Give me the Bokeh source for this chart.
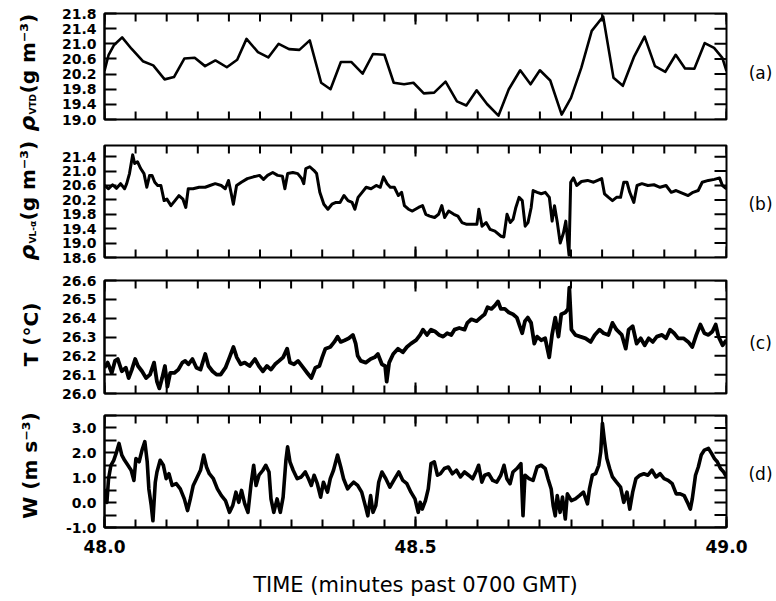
import numpy as np
from bokeh.plotting import figure
from bokeh.models import Range1d, LinearAxis, FixedTicker, PrintfTickFormatter
from bokeh.core.properties import value
from bokeh.layouts import column, row
from bokeh.embed import file_html
from bokeh.resources import INLINE

# Time axis: minutes past 0700 GMT. Samples are stored as seconds after 48.0 min.
T0 = 48.0
TIME_LABELS = [48.0, 48.5, 49.0]
TIME_MINOR = [round(v, 2) for v in np.arange(48.0, 49.0001, 0.05)]

# (a) VTD density, one value per second
VTD_SEC = [0.0, 0.4, 0.9, 1.7, 2.6, 3.7, 4.7, 5.8, 6.7, 7.7,
           8.7, 9.7, 10.7, 11.8, 12.8, 13.7, 14.8, 15.8, 16.8, 17.8,
           18.8, 19.8, 20.9, 21.8, 22.8, 23.8, 24.9, 25.9, 27.0, 27.9,
           28.9, 29.8, 30.8, 31.8, 32.9, 34.0, 34.9, 35.9, 36.9, 38.0,
           39.0, 40.1, 41.1, 42.0, 43.0, 44.1, 45.0, 46.0, 47.0, 48.1,
           49.1, 50.0, 51.1, 52.1, 53.1, 54.1, 55.1, 56.0, 56.9, 57.9,
           58.8, 59.6, 60.0]
VTD_RHO = [20.28, 20.71, 20.96, 21.17, 20.87, 20.54, 20.43, 20.06, 20.12, 20.61,
           20.63, 20.41, 20.56, 20.38, 20.58, 21.13, 20.78, 20.64, 21.00, 20.86,
           20.84, 21.09, 19.97, 19.80, 20.52, 20.52, 20.21, 20.73, 20.71, 19.97,
           19.93, 19.97, 19.69, 19.71, 20.00, 19.48, 19.37, 19.77, 19.41, 19.10,
           19.80, 20.30, 19.93, 20.30, 20.03, 19.13, 19.57, 20.37, 21.34, 21.72,
           20.10, 19.89, 20.67, 21.19, 20.41, 20.26, 20.71, 20.35, 20.34, 21.02,
           20.89, 20.63, 20.28]

# (b) Lyman-alpha density
LA_SEC = [0.00, 0.39, 0.78, 1.16, 1.55, 1.94, 2.14, 2.41, 2.72, 2.91,
          3.18, 3.49, 3.81, 4.08, 4.35, 4.58, 4.85, 5.13, 5.44, 5.75,
          6.02, 6.41, 6.80, 7.18, 7.57, 7.84, 8.08, 8.54, 9.13, 9.71,
          10.17, 10.68, 11.26, 11.65, 11.96, 12.23, 12.43, 12.74, 13.20, 13.78,
          14.37, 14.95, 15.34, 15.73, 16.23, 16.70, 17.16, 17.40, 17.67, 18.17,
          18.64, 19.03, 19.22, 19.42, 19.80, 20.19, 20.46, 20.77, 21.16, 21.55,
          21.94, 22.33, 22.72, 23.10, 23.49, 23.88, 24.15, 24.46, 24.85, 25.24,
          25.71, 26.21, 26.60, 26.91, 27.26, 27.57, 27.96, 28.35, 28.66, 28.93,
          29.32, 29.70, 30.29, 30.68, 30.99, 31.37, 31.84, 32.23, 32.54, 32.81,
          33.20, 33.70, 34.09, 34.48, 34.95, 35.53, 35.92, 36.11, 36.42, 36.81,
          37.20, 37.66, 38.25, 38.52, 38.83, 39.14, 39.41, 39.68, 39.99, 40.30,
          40.58, 40.85, 41.16, 41.35, 41.74, 42.13, 42.52, 42.91, 43.18, 43.41,
          43.68, 43.96, 44.27, 44.50, 44.66, 44.81, 44.97, 45.24, 45.55, 46.01,
          46.60, 47.18, 47.57, 47.96, 48.23, 48.62, 49.00, 49.39, 49.78, 50.09,
          50.40, 50.67, 51.06, 51.37, 51.84, 52.42, 53.00, 53.59, 54.17, 54.67,
          55.14, 55.72, 56.30, 56.77, 57.27, 57.66, 58.25, 58.83, 59.33, 59.61,
          60.00]
LA_RHO = [20.60, 20.51, 20.62, 20.52, 20.65, 20.51, 20.65, 20.93, 21.45, 21.21,
          21.26, 21.07, 20.93, 20.55, 20.88, 20.88, 20.69, 20.60, 20.60, 20.18,
          20.22, 20.04, 20.18, 20.32, 20.22, 19.99, 20.51, 20.51, 20.55, 20.55,
          20.60, 20.65, 20.60, 20.51, 20.74, 20.37, 20.08, 20.60, 20.69, 20.79,
          20.84, 20.88, 20.77, 20.88, 20.96, 20.88, 20.86, 20.51, 20.93, 20.96,
          20.93, 20.79, 20.65, 21.07, 21.12, 21.02, 20.93, 20.41, 20.08, 19.94,
          20.08, 20.13, 20.13, 20.32, 20.18, 20.13, 19.94, 20.27, 20.41, 20.55,
          20.51, 20.60, 20.55, 20.84, 20.65, 20.55, 20.55, 20.32, 20.41, 20.04,
          19.94, 19.89, 19.99, 20.04, 19.80, 19.75, 19.71, 19.80, 20.04, 19.71,
          19.89, 19.80, 19.75, 19.57, 19.52, 19.52, 19.52, 19.94, 19.47, 19.57,
          19.38, 19.33, 19.19, 19.17, 19.80, 19.57, 19.66, 19.99, 20.27, 20.18,
          19.47, 19.57, 19.99, 20.46, 20.41, 20.37, 20.41, 20.27, 19.61, 20.04,
          19.57, 19.00, 19.28, 19.61, 19.09, 18.67, 20.69, 20.81, 20.60, 20.71,
          20.74, 20.69, 20.74, 20.79, 20.37, 20.27, 20.18, 20.27, 20.27, 20.69,
          20.69, 20.41, 20.13, 20.60, 20.65, 20.60, 20.62, 20.55, 20.60, 20.41,
          20.46, 20.39, 20.32, 20.41, 20.46, 20.69, 20.74, 20.77, 20.81, 20.60,
          20.51]

# (c) air temperature
T_SEC = [0.00, 0.31, 0.70, 1.01, 1.28, 1.67, 2.06, 2.33, 2.64, 2.96,
         3.23, 3.62, 4.01, 4.39, 4.78, 5.06, 5.29, 5.56, 5.83, 6.07,
         6.34, 6.73, 7.12, 7.51, 7.78, 8.09, 8.48, 8.87, 9.26, 9.72,
         10.03, 10.42, 10.81, 11.20, 11.67, 12.06, 12.44, 12.76, 13.14, 13.53,
         14.00, 14.51, 14.89, 15.28, 15.67, 16.06, 16.45, 16.84, 17.23, 17.62,
         17.89, 18.28, 18.67, 19.17, 19.56, 19.95, 20.34, 20.73, 21.00, 21.31,
         21.78, 22.17, 22.48, 22.79, 23.18, 23.57, 23.96, 24.23, 24.42, 24.73,
         25.20, 25.67, 26.06, 26.37, 26.76, 27.07, 27.22, 27.46, 27.85, 28.31,
         28.78, 29.17, 29.56, 30.06, 30.45, 30.72, 31.11, 31.50, 31.89, 32.28,
         32.67, 33.06, 33.45, 33.76, 34.22, 34.73, 35.00, 35.39, 35.90, 36.28,
         36.67, 36.95, 37.33, 37.65, 37.96, 38.23, 38.62, 39.01, 39.40, 39.78,
         40.06, 40.29, 40.56, 40.83, 41.15, 41.46, 41.73, 42.12, 42.51, 42.90,
         43.17, 43.48, 43.79, 44.06, 44.45, 44.72, 44.84, 45.04, 45.42, 45.89,
         46.40, 46.90, 47.29, 47.76, 48.15, 48.61, 49.00, 49.39, 49.90, 50.28,
         50.56, 50.95, 51.33, 51.72, 52.11, 52.50, 52.89, 53.28, 53.78, 54.17,
         54.56, 54.95, 55.34, 55.85, 56.31, 56.70, 57.09, 57.48, 57.87, 58.26,
         58.64, 58.96, 59.23, 59.62, 60.00]
T_DEGC = [26.137, 26.164, 26.109, 26.173, 26.183, 26.118, 26.137, 26.082, 26.127, 26.183,
          26.146, 26.118, 26.082, 26.100, 26.164, 26.063, 26.027, 26.082, 26.146, 26.036,
          26.109, 26.109, 26.127, 26.164, 26.173, 26.155, 26.183, 26.137, 26.127, 26.210,
          26.146, 26.118, 26.100, 26.100, 26.137, 26.192, 26.247, 26.192, 26.155, 26.164,
          26.146, 26.183, 26.146, 26.118, 26.146, 26.127, 26.155, 26.173, 26.192, 26.238,
          26.164, 26.155, 26.173, 26.137, 26.109, 26.082, 26.137, 26.146, 26.192, 26.238,
          26.247, 26.274, 26.302, 26.274, 26.283, 26.293, 26.311, 26.265, 26.201, 26.173,
          26.164, 26.183, 26.192, 26.210, 26.155, 26.146, 26.063, 26.164, 26.210, 26.238,
          26.219, 26.247, 26.265, 26.283, 26.311, 26.339, 26.311, 26.339, 26.329, 26.311,
          26.302, 26.320, 26.311, 26.339, 26.348, 26.339, 26.375, 26.394, 26.384, 26.403,
          26.421, 26.458, 26.449, 26.467, 26.489, 26.449, 26.449, 26.430, 26.421, 26.403,
          26.357, 26.320, 26.384, 26.403, 26.375, 26.265, 26.302, 26.283, 26.293, 26.192,
          26.311, 26.403, 26.302, 26.421, 26.430, 26.449, 26.562, 26.339, 26.311, 26.302,
          26.293, 26.274, 26.311, 26.339, 26.320, 26.311, 26.375, 26.339, 26.311, 26.238,
          26.339, 26.357, 26.265, 26.293, 26.256, 26.293, 26.274, 26.302, 26.311, 26.293,
          26.339, 26.320, 26.293, 26.293, 26.274, 26.247, 26.311, 26.366, 26.320, 26.311,
          26.329, 26.366, 26.302, 26.256, 26.283]

# (d) vertical velocity
W_SEC = [0.00, 0.23, 0.39, 0.62, 0.89, 1.17, 1.40, 1.67, 1.94, 2.26,
         2.57, 2.84, 3.03, 3.34, 3.62, 3.89, 4.12, 4.28, 4.51, 4.67,
         4.90, 5.06, 5.37, 5.68, 5.95, 6.22, 6.53, 6.92, 7.31, 7.70,
         8.01, 8.28, 8.56, 8.87, 9.26, 9.57, 9.84, 10.11, 10.50, 10.89,
         11.28, 11.67, 12.06, 12.37, 12.68, 12.95, 13.22, 13.53, 13.84, 14.12,
         14.39, 14.62, 14.90, 15.28, 15.56, 15.87, 16.06, 16.33, 16.65, 16.96,
         17.23, 17.50, 17.66, 17.89, 18.20, 18.59, 18.98, 19.37, 19.68, 19.95,
         20.22, 20.53, 20.85, 21.12, 21.51, 21.78, 22.09, 22.48, 22.79, 23.06,
         23.45, 23.72, 24.03, 24.42, 24.81, 25.20, 25.40, 25.67, 25.90, 26.17,
         26.45, 26.76, 27.14, 27.53, 28.00, 28.39, 28.78, 29.17, 29.56, 29.95,
         30.26, 30.45, 30.65, 30.96, 31.23, 31.50, 31.81, 32.12, 32.40, 32.78,
         33.17, 33.56, 33.95, 34.34, 34.73, 35.12, 35.51, 35.90, 36.09, 36.40,
         36.67, 37.06, 37.45, 37.84, 38.23, 38.54, 38.81, 39.12, 39.40, 39.78,
         40.17, 40.37, 40.56, 40.95, 41.34, 41.73, 42.12, 42.51, 42.78, 43.09,
         43.28, 43.48, 43.67, 43.95, 44.18, 44.45, 44.65, 45.04, 45.42, 45.81,
         46.20, 46.59, 46.78, 47.06, 47.37, 47.68, 47.87, 48.03, 48.22, 48.46,
         48.73, 49.00, 49.39, 49.78, 50.09, 50.40, 50.67, 50.95, 51.26, 51.65,
         52.03, 52.42, 52.81, 53.20, 53.59, 53.98, 54.37, 54.76, 55.15, 55.53,
         55.92, 56.23, 56.51, 56.70, 57.01, 57.28, 57.56, 57.87, 58.26, 58.57,
         58.84, 59.11, 59.42, 59.73, 60.00]
W_MS = [0.55, 0.01, 0.96, 1.50, 1.70, 2.04, 2.38, 1.91, 1.70, 1.50,
        1.30, 0.89, 1.77, 1.64, 2.11, 2.45, 1.64, 0.55, -0.12, -0.73,
        0.82, 1.23, 1.70, 1.50, 0.96, 1.16, 0.69, 0.76, 0.55, 0.15,
        -0.32, 0.15, 0.69, 0.96, 1.30, 1.91, 1.43, 1.16, 0.96, 0.55,
        0.28, 0.08, -0.39, -0.12, 0.42, 0.01, 0.49, -0.05, -0.39, 0.69,
        1.50, 0.69, 1.10, 1.30, 1.50, 1.23, 0.15, -0.39, 0.15, -0.39,
        0.22, 1.70, 2.24, 1.64, 1.30, 0.96, 1.03, 1.23, 0.96, 0.69,
        1.10, 0.76, 0.22, 0.82, 0.42, 0.96, 1.30, 1.91, 1.43, 0.96,
        0.55, 0.69, 0.82, 0.69, 0.42, -0.19, -0.53, 0.28, -0.39, -0.12,
        0.82, 1.23, 0.96, 0.62, 0.96, 1.23, 0.89, 0.76, 0.42, 0.15,
        -0.39, 0.01, -0.26, 0.08, 0.55, 1.57, 1.64, 1.10, 1.16, 1.37,
        1.43, 1.16, 1.30, 1.03, 1.23, 1.10, 0.96, 1.30, 1.50, 0.82,
        1.10, 1.16, 0.89, 0.82, 1.10, 1.50, 0.96, 0.76, 1.23, 1.37,
        1.57, -0.53, 1.10, 0.96, 0.89, 1.43, 1.50, 1.37, 0.96, 0.55,
        -0.12, -0.53, 0.28, -0.39, 0.22, -0.66, 0.35, 0.08, 0.15, 0.28,
        0.42, -0.05, 0.55, 1.10, 1.16, 1.50, 2.04, 3.19, 2.51, 1.77,
        1.37, 1.03, 0.82, 0.62, 0.01, 0.42, -0.26, 0.42, 0.96, 1.10,
        1.16, 1.10, 1.30, 1.03, 1.16, 0.96, 0.89, 0.76, 0.35, 0.35,
        0.28, 0.01, -0.26, 0.15, 1.10, 1.43, 1.91, 2.11, 2.18, 1.97,
        1.77, 1.64, 1.37, 1.23, 1.03]

# y-axis tick values of each panel
VTD_TICKS = [19.0, 19.4, 19.8, 20.2, 20.6, 21.0, 21.4, 21.8]
LA_TICKS = [18.6, 19.0, 19.4, 19.8, 20.2, 20.6, 21.0, 21.4]
T_TICKS = [26.0, 26.1, 26.2, 26.3, 26.4, 26.5, 26.6]
W_TICKS = [-1.0, 0.0, 1.0, 2.0, 3.0]
W_MINOR = [-0.5, 0.5, 1.5, 2.5, 3.5]

FONT = "DejaVu Sans"
PAGE_H = 601
SIDE_L = 56      # width of the column holding the vertical axis titles
SIDE_R = 28      # width of the column holding the panel letters
MAIN_W = 776 - SIDE_L - SIDE_R
BORDER_L = 48
BORDER_R = 22


def minutes(sec):
    return [T0 + s / 60.0 for s in sec]


def inner_ticks(p, xs, ys, length, angle):
    p.ray(x=xs, y=ys, length=length, length_units="screen", angle=angle,
          angle_units="deg", line_color="black", line_width=2)


def make_panel(height, b_top, b_bottom, y_start, y_end, y_ticks, y_minor, show_time):
    p = figure(width=MAIN_W, height=height,
               x_range=Range1d(48.0, 49.0), y_range=Range1d(y_start, y_end),
               x_axis_location=None, y_axis_location=None,
               output_backend="svg", toolbar_location=None,
               min_border_left=BORDER_L, min_border_right=BORDER_R,
               min_border_top=b_top, min_border_bottom=b_bottom)
    p.xgrid.visible = False
    p.ygrid.visible = False
    p.outline_line_color = "black"
    p.outline_line_width = 2
    p.background_fill_color = "white"
    p.border_fill_color = "white"

    # left axis with labels, ticks pointing into the frame
    ax = LinearAxis(ticker=FixedTicker(ticks=y_ticks, minor_ticks=y_minor),
                    formatter=PrintfTickFormatter(format="%.1f"))
    ax.axis_line_width = 2
    ax.major_tick_line_width = 2
    ax.minor_tick_line_width = 2
    ax.major_tick_out = 0
    ax.minor_tick_out = 0
    ax.major_tick_in = 12
    ax.minor_tick_in = 12
    ax.major_label_standoff = 8
    ax.major_label_text_font = FONT
    ax.major_label_text_font_style = "bold"
    ax.major_label_text_font_size = "14px"
    ax.major_label_text_color = "black"
    p.add_layout(ax, "left")

    # ticks on the remaining edges
    inner_ticks(p, 49.0, y_ticks + y_minor, 12, 180)
    inner_ticks(p, TIME_MINOR, y_end, 8, -90)
    inner_ticks(p, TIME_LABELS, y_end, 11, -90)
    if show_time:
        bx = LinearAxis(ticker=FixedTicker(ticks=TIME_LABELS, minor_ticks=TIME_MINOR),
                        formatter=PrintfTickFormatter(format="%.1f"))
        bx.axis_line_width = 2
        bx.major_tick_line_width = 2
        bx.minor_tick_line_width = 2
        bx.major_tick_out = 0
        bx.minor_tick_out = 0
        bx.major_tick_in = 11
        bx.minor_tick_in = 8
        bx.major_label_standoff = 12
        bx.major_label_text_font = FONT
        bx.major_label_text_font_style = "bold"
        bx.major_label_text_font_size = "17px"
        bx.major_label_text_color = "black"
        bx.axis_label = "TIME (minutes past 0700 GMT)"
        bx.axis_label_text_font = FONT
        bx.axis_label_text_font_style = "normal"
        bx.axis_label_text_font_size = "21px"
        bx.axis_label_text_color = "black"
        bx.axis_label_standoff = 17
        p.add_layout(bx, "below")
    else:
        inner_ticks(p, TIME_MINOR, y_start, 8, 90)
        inner_ticks(p, TIME_LABELS, y_start, 11, 90)
    return p


def side_figure(width):
    p = figure(width=width, height=PAGE_H, x_range=Range1d(0, width),
               y_range=Range1d(0, PAGE_H), x_axis_location=None, y_axis_location=None,
               output_backend="svg", toolbar_location=None,
               min_border=0, min_border_left=0, min_border_right=0,
               min_border_top=0, min_border_bottom=0)
    p.xgrid.visible = False
    p.ygrid.visible = False
    p.outline_line_color = None
    p.background_fill_color = "white"
    p.border_fill_color = "white"
    return p


def put_text(p, xs, ys_from_top, texts, size, style="bold", angle=0, align="left",
             baseline="alphabetic"):
    p.text(x=xs, y=[PAGE_H - y for y in ys_from_top], text=texts, angle=angle,
           angle_units="deg", text_font=value(FONT), text_font_style=style,
           text_font_size=value(size), text_color="black", text_align=align,
           text_baseline=baseline)


# vertical axis titles: symbol, subscript, units
left = side_figure(SIDE_L)
put_text(left, [27, 27], [131, 260], ["ρ", "ρ"], "22px", style="bold italic", angle=90)
put_text(left, [32, 32], [114, 243], ["VTD", "VL-α"], "9px", angle=90)
put_text(left, [27, 27], [93, 220], ["(g m⁻³)", "(g m⁻³)"], "20px", angle=90)
put_text(left, [30, 29], [334, 465], ["T (°C)", "W (m s⁻³)"], "20px", angle=90, align="center")

# panel letters
right = side_figure(SIDE_R)
put_text(right, [12, 12, 12, 12], [72, 203, 342, 473], ["(a)", "(b)", "(c)", "(d)"], "17px",
         style="normal", align="center", baseline="middle")

pa = make_panel(132, 13, 13, 19.0, 21.8, VTD_TICKS, [], False)
pa.line(minutes(VTD_SEC), VTD_RHO, line_color="black", line_width=2.6, line_join="round")

pb = make_panel(136, 13, 11, 18.6, 21.71, LA_TICKS, [], False)
pb.line(minutes(LA_SEC), LA_RHO, line_color="black", line_width=3.0, line_join="round")

pc = make_panel(136, 12, 11, 26.0, 26.6, T_TICKS, [], False)
pc.line(minutes(T_SEC), T_DEGC, line_color="black", line_width=3.8, line_join="round")

pd = make_panel(197, 11, 74, -1.0, 3.5, W_TICKS, W_MINOR, True)
pd.line(minutes(W_SEC), W_MS, line_color="black", line_width=3.6, line_join="round")

layout = row(left, column(pa, pb, pc, pd), right)
open("out.html", "w").write(file_html(layout, INLINE))
